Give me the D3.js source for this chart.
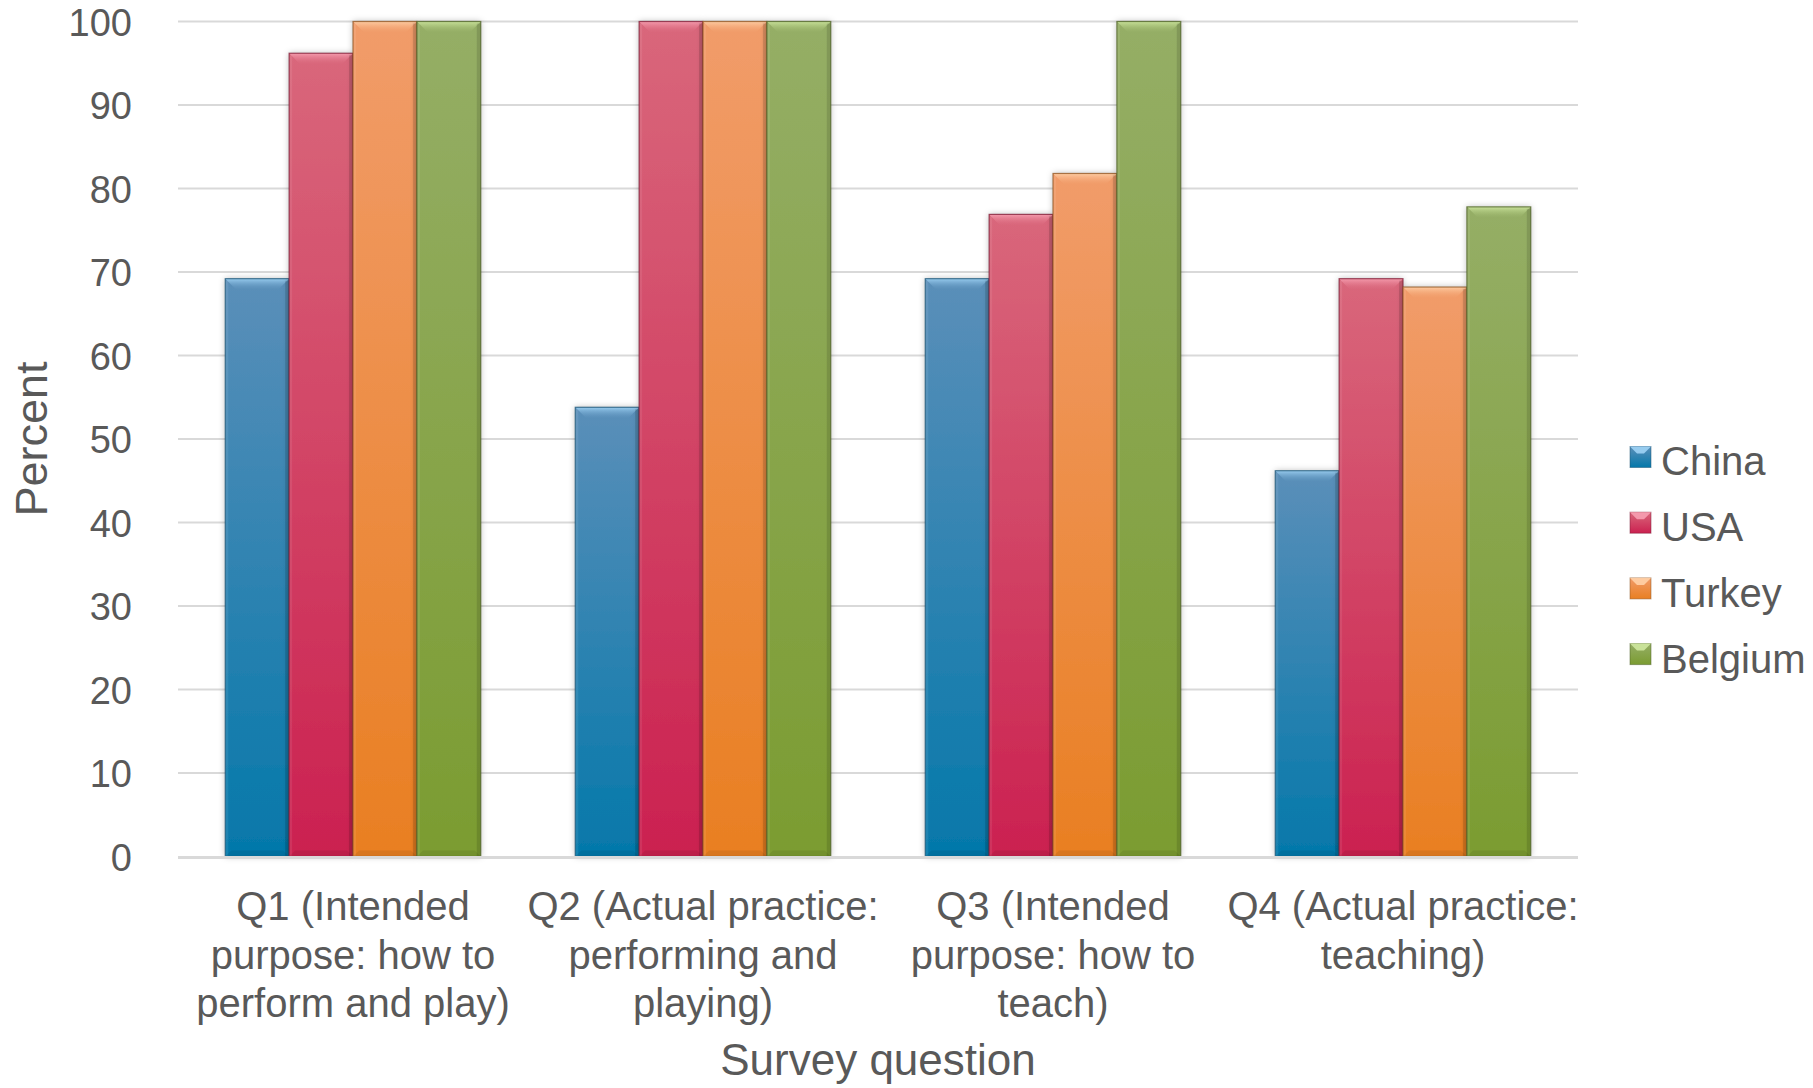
<!DOCTYPE html>
<html>
<head>
<meta charset="utf-8">
<script src="https://cdn.jsdelivr.net/npm/d3@7"></script>
<style>
  html, body { margin: 0; padding: 0; background: #fff; }
  svg { display: block; font-family: "Liberation Sans", Arial, sans-serif; }
</style>
</head>
<body>
<svg id="chart" width="1813" height="1088"></svg>
<script>
// Survey questions (category labels, one array entry per line)
const categories = ["Q1", "Q2", "Q3", "Q4"];
const categoryLines = [
  ["Q1 (Intended", "purpose: how to", "perform and play)"],
  ["Q2 (Actual practice:", "performing and", "playing)"],
  ["Q3 (Intended", "purpose: how to", "teach)"],
  ["Q4 (Actual practice:", "teaching)"]
];
const seriesNames = ["China", "USA", "Turkey", "Belgium"];
const china   = [69.2, 53.8, 69.2, 46.2];
const usa     = [96.2, 100, 76.9, 69.2];
const turkey  = [100, 100, 81.8, 68.2];
const belgium = [100, 100, 100, 77.8];
const yTicks = [0, 10, 20, 30, 40, 50, 60, 70, 80, 90, 100];

const seriesValues = [china, usa, turkey, belgium];
// top colour, bottom colour, bevel highlight, outline
const palette = [
  { top: "#5b8fb9", bottom: "#0478aa", light: "#9fd3f5", edge: "#1d5575" },
  { top: "#d9677b", bottom: "#cb2150", light: "#f7a0b2", edge: "#7e1d37" },
  { top: "#f19c6a", bottom: "#e97f22", light: "#ffd1a8", edge: "#8e5422" },
  { top: "#95ae66", bottom: "#7b9c31", light: "#cfe8a0", edge: "#4c5f25" }
];

const svg = d3.select("#chart");
const textColor = "#595959";
const plot = { left: 178, right: 1578, top: 21.5, bottom: 856.5 };

const x = d3.scaleBand()
  .domain(categories)
  .range([plot.left, plot.right])
  .paddingInner(0.27)
  .paddingOuter(0.135);

const xs = d3.scaleBand()
  .domain(seriesNames)
  .range([0, x.bandwidth()])
  .padding(0);

const y = d3.scaleLinear().domain([0, 100]).range([plot.bottom, plot.top]);

const defs = svg.append("defs");
palette.forEach((c, i) => {
  const g = defs.append("linearGradient")
    .attr("id", "fill" + i).attr("x1", 0).attr("y1", 0).attr("x2", 0).attr("y2", 1);
  g.append("stop").attr("offset", "0%").attr("stop-color", c.top);
  g.append("stop").attr("offset", "100%").attr("stop-color", c.bottom);
  const b = defs.append("linearGradient")
    .attr("id", "bevel" + i).attr("x1", 0).attr("y1", 0).attr("x2", 0).attr("y2", 1);
  b.append("stop").attr("offset", "0%").attr("stop-color", c.light);
  b.append("stop").attr("offset", "100%").attr("stop-color", c.top).attr("stop-opacity", 0.2);
});
const shadow = defs.append("filter").attr("id", "shadow")
  .attr("x", "-20%").attr("y", "-5%").attr("width", "140%").attr("height", "110%");
shadow.append("feDropShadow").attr("dx", 0).attr("dy", 0).attr("stdDeviation", 3)
  .attr("flood-color", "#000").attr("flood-opacity", 0.28);

// Horizontal gridlines
svg.append("g")
  .selectAll("line")
  .data(yTicks.filter(d => d > 0))
  .join("line")
  .attr("x1", plot.left).attr("x2", plot.right)
  .attr("y1", d => y(d)).attr("y2", d => y(d))
  .attr("stroke", "#d9d9d9").attr("stroke-width", 2);

// Y axis labels
const yAxis = d3.axisLeft(y).tickValues(yTicks).tickSize(0).tickPadding(0);
const yg = svg.append("g").attr("transform", `translate(${132},0)`).call(yAxis);
yg.select(".domain").remove();
yg.selectAll("text")
  .attr("fill", textColor)
  .style("font-size", "38px")
  .attr("dy", "0.36em");

// Bars
const groups = svg.append("g").selectAll("g")
  .data(categories)
  .join("g")
  .attr("transform", d => `translate(${x(d)},0)`);

const bars = groups.selectAll("g.bar")
  .data((cat, ci) => seriesNames.map((s, si) => ({ s, si, v: seriesValues[si][ci] })))
  .join("g").attr("class", "bar");

bars.each(function(d) {
  const g = d3.select(this);
  const x0 = xs(d.s), w = xs.bandwidth();
  const yt = y(d.v), h = y(0) - y(d.v);
  const bv = 11;
  g.append("rect")
    .attr("x", x0).attr("y", yt).attr("width", w).attr("height", h)
    .attr("fill", `url(#fill${d.si})`)
    .attr("filter", "url(#shadow)");
  // top bevel
  g.append("path")
    .attr("d", `M${x0},${yt}L${x0 + w},${yt}L${x0 + w - bv},${yt + bv}L${x0 + bv},${yt + bv}Z`)
    .attr("fill", `url(#bevel${d.si})`).attr("opacity", 0.9);
  // side shading
  g.append("rect").attr("x", x0 + w - 4).attr("y", yt + 2).attr("width", 4).attr("height", h - 2)
    .attr("fill", "#000").attr("opacity", 0.12);
  g.append("rect").attr("x", x0).attr("y", yt + 2).attr("width", 3).attr("height", h - 2)
    .attr("fill", "#fff").attr("opacity", 0.08);
  // bottom bevel
  g.append("path")
    .attr("d", `M${x0},${y(0)}L${x0 + w},${y(0)}L${x0 + w - 6},${y(0) - 6}L${x0 + 6},${y(0) - 6}Z`)
    .attr("fill", "#000").attr("opacity", 0.07);
  g.append("rect")
    .attr("x", x0).attr("y", yt).attr("width", w).attr("height", h)
    .attr("fill", "none").attr("stroke", palette[d.si].edge).attr("stroke-opacity", 0.75)
    .attr("stroke-width", 1.2);
});

// Baseline
svg.append("line")
  .attr("x1", plot.left).attr("x2", plot.right)
  .attr("y1", y(0) + 1).attr("y2", y(0) + 1)
  .attr("stroke", "#d9d9d9").attr("stroke-width", 3);

// Category labels
const catText = svg.append("g").selectAll("text")
  .data(categories)
  .join("text")
  .attr("x", d => x(d) + x.bandwidth() / 2)
  .attr("y", 920)
  .attr("text-anchor", "middle")
  .attr("fill", textColor)
  .style("font-size", "40px");
catText.each(function(d, i) {
  d3.select(this).selectAll("tspan")
    .data(categoryLines[i])
    .join("tspan")
    .attr("x", x(d) + x.bandwidth() / 2)
    .attr("dy", (t, j) => j === 0 ? 0 : 48.5)
    .text(t => t);
});

// Axis titles
svg.append("text")
  .attr("x", (plot.left + plot.right) / 2).attr("y", 1075)
  .attr("text-anchor", "middle").attr("fill", textColor)
  .style("font-size", "44px")
  .text("Survey question");

svg.append("text")
  .attr("transform", `translate(${47},${439}) rotate(-90)`)
  .attr("text-anchor", "middle").attr("fill", textColor)
  .style("font-size", "45px")
  .text("Percent");

// Legend
const legend = svg.append("g").selectAll("g")
  .data(seriesNames)
  .join("g")
  .attr("transform", (d, i) => `translate(1630,${461 + i * 65.7})`);
legend.append("rect")
  .attr("x", 0).attr("y", -14.5).attr("width", 21).attr("height", 21)
  .attr("fill", (d, i) => `url(#fill${i})`)
  .attr("stroke", (d, i) => palette[i].edge).attr("stroke-opacity", 0.5).attr("stroke-width", 1);
legend.append("path")
  .attr("d", "M0,-14.5L21,-14.5L14,-7.5L7,-7.5Z")
  .attr("fill", (d, i) => palette[i].light).attr("opacity", 0.9);
legend.append("text")
  .attr("x", 31).attr("y", 0).attr("dy", "0.36em")
  .attr("fill", textColor)
  .style("font-size", "40px")
  .text(d => d);
</script>
</body>
</html>
